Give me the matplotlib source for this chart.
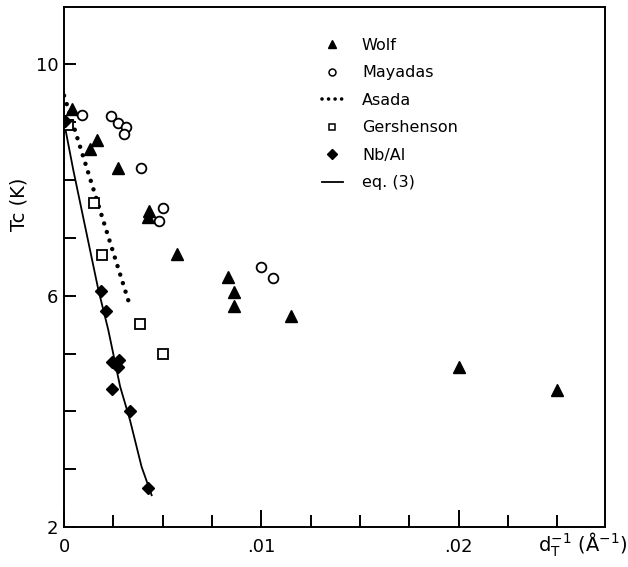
import numpy as np
import matplotlib
matplotlib.use("Agg")
import matplotlib.pyplot as plt
from matplotlib.lines import Line2D

# Wolf (filled triangles)
wolf_x = [0.0004, 0.00165, 0.0013, 0.00275, 0.0043, 0.00424, 0.0057, 0.0083, 0.0086, 0.0086, 0.0115, 0.0200, 0.0250]
wolf_y = [9.22, 8.69, 8.54, 8.21, 7.47, 7.36, 6.72, 6.32, 6.07, 5.82, 5.65, 4.76, 4.37]

# Mayadas (open circles)
mayadas_x = [0.00093, 0.0024, 0.00275, 0.00314, 0.00305, 0.0039, 0.0050, 0.0048, 0.0100, 0.01057]
mayadas_y = [9.12, 9.10, 8.99, 8.92, 8.80, 8.21, 7.51, 7.29, 6.50, 6.31]

# Asada (dotted line)
asada_x = [0.0, 0.0033]
asada_y = [9.46, 5.87]

# Gershenson (open squares)
gersh_x = [0.0002, 0.0015, 0.00194, 0.00385, 0.00503]
gersh_y = [8.95, 7.61, 6.70, 5.51, 5.00]

# Nb/Al (filled diamonds)
nbal_x = [0.00005, 0.00187, 0.00211, 0.00241, 0.0028, 0.00275, 0.00241, 0.00334, 0.00427]
nbal_y = [9.02, 6.08, 5.74, 4.86, 4.88, 4.77, 4.39, 4.01, 2.67]

# eq. (3) (solid curve)
eq3_x = [0.0, 0.00047, 0.00174, 0.00224, 0.00284, 0.00334, 0.00393, 0.00444]
eq3_y = [9.00, 8.17, 6.10, 5.41, 4.43, 3.85, 3.04, 2.55]

x_major = [0, 0.01, 0.02]
x_major_labels = ["0", ".01", ".02"]
y_major = [2, 6, 10]
y_major_labels = ["2", "6", "10"]

fig = plt.figure(figsize=(6.28, 5.67), dpi=100)
ax = fig.add_axes([0.102, 0.0705, 0.861, 0.918])

dots = (0, (0.01, 2.0))
ax.plot(eq3_x, eq3_y, color="black", lw=1.3)
ax.plot(asada_x, asada_y, color="black", lw=3.2, linestyle=dots, dash_capstyle="round")
ax.plot(wolf_x, wolf_y, linestyle="none", marker="^", ms=8.5, color="black")
ax.plot(mayadas_x, mayadas_y, linestyle="none", marker="o", ms=7, mfc="white", mec="black", mew=1.3)
ax.plot(gersh_x, gersh_y, linestyle="none", marker="s", ms=6.5, mfc="white", mec="black", mew=1.3)
ax.plot(nbal_x, nbal_y, linestyle="none", marker="D", ms=6.5, color="black")

ax.set_xlim(0, 0.0274)
ax.set_ylim(2, 11)

ax.set_xticks(x_major)
ax.set_xticklabels(x_major_labels)
ax.set_xticks(np.arange(0.0025, 0.0274, 0.0025), minor=True)
ax.set_yticks(y_major)
ax.set_yticklabels(y_major_labels)
ax.set_yticks([3, 4, 5, 7, 8, 9], minor=True)

ax.tick_params(axis="x", which="major", direction="in", length=12, width=1.4, labelsize=13, pad=8)
ax.tick_params(axis="x", which="minor", direction="in", length=8.5, width=1.4)
ax.tick_params(axis="y", which="both", direction="in", length=8.5, width=1.4, labelsize=13, pad=4)

for s in ax.spines.values():
    s.set_linewidth(1.4)

fig.text(0.03, 0.64, "Tc (K)", rotation=90, fontsize=14, ha="center", va="center")
fig.text(0.998, 0.027, r"d$_{\rm T}^{-1}$ (Å$^{-1}$)", fontsize=14, ha="right", va="baseline")

handles = [
    Line2D([], [], linestyle="none", marker="^", ms=6, color="black"),
    Line2D([], [], linestyle="none", marker="o", ms=5, mfc="white", mec="black", mew=1.1),
    Line2D([], [], color="black", lw=2.6, linestyle=(0, (0.01, 1.8)), dash_capstyle="round"),
    Line2D([], [], linestyle="none", marker="s", ms=5, mfc="white", mec="black", mew=1.1),
    Line2D([], [], linestyle="none", marker="D", ms=5, color="black"),
    Line2D([], [], color="black", lw=1.3),
]
labels = ["Wolf", "Mayadas", "Asada", "Gershenson", "Nb/Al", "eq. (3)"]
ax.legend(handles, labels, loc="upper left", bbox_to_anchor=(314 / 628, 1 - 30 / 567),
          bbox_transform=fig.transFigure, frameon=False, fontsize=11.5,
          handlelength=1.3, handletextpad=1.2, labelspacing=0.78, borderpad=0)

fig.savefig("out.png", dpi=100)
